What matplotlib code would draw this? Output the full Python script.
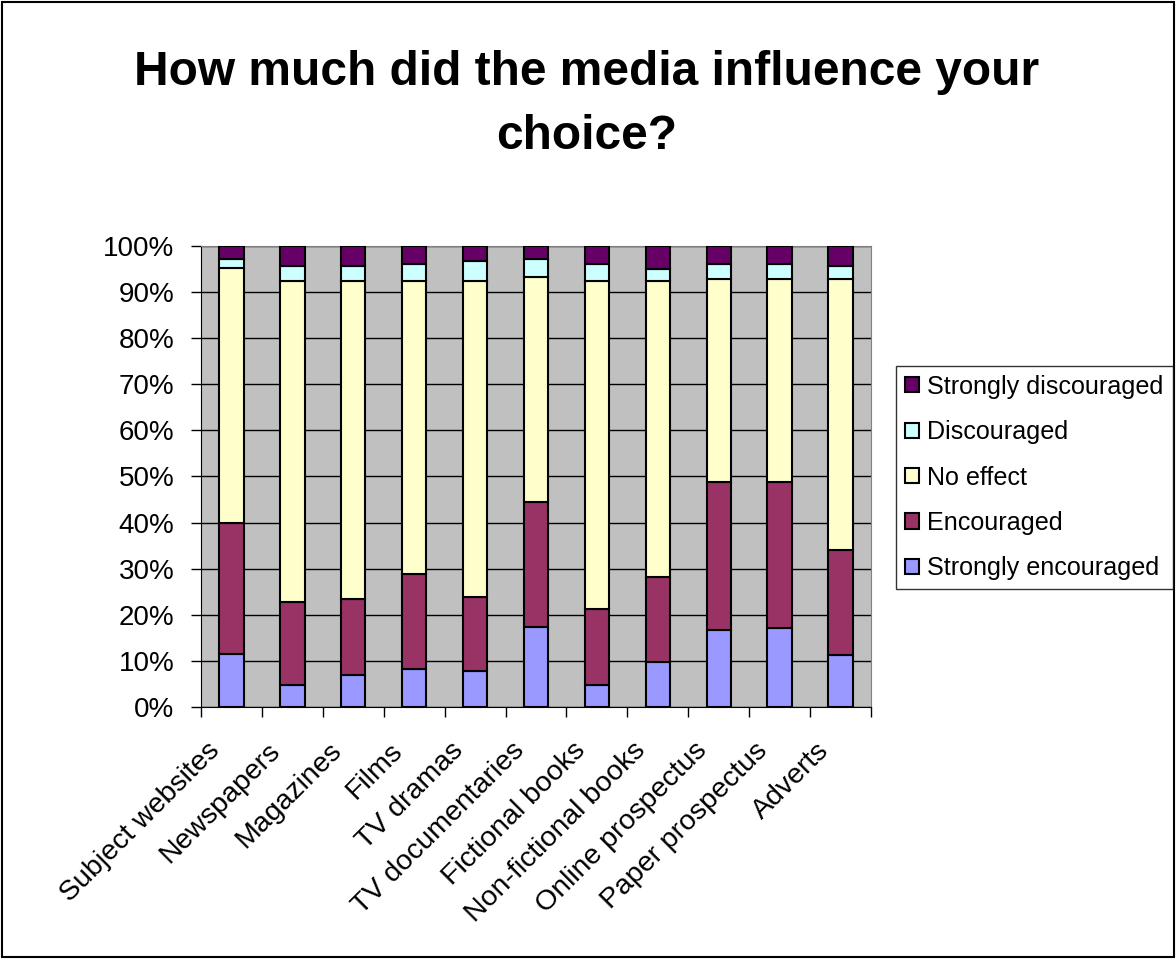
"""Stacked 100% bar chart: media influence on choice."""

import matplotlib.pyplot as plt
from matplotlib.patches import Rectangle
from matplotlib.ticker import FuncFormatter, MultipleLocator
from matplotlib.transforms import ScaledTranslation

plt.rcParams["font.family"] = ["Liberation Sans", "DejaVu Sans"]

CATEGORIES = [
    "Subject websites", "Newspapers", "Magazines", "Films", "TV dramas",
    "TV documentaries", "Fictional books", "Non-fictional books",
    "Online prospectus", "Paper prospectus", "Adverts",
]
STRONGLY_ENCOURAGED = [11.5, 4.8, 6.9, 8.3, 7.8, 17.3, 4.8, 9.8, 16.8, 17.2, 11.3]
ENCOURAGED = [28.5, 18.0, 16.5, 20.6, 16.1, 27.2, 16.5, 18.5, 32.0, 31.6, 22.7]
NO_EFFECT = [55.2, 69.5, 69.0, 63.4, 68.4, 48.7, 71.0, 64.0, 44.0, 44.0, 58.8]
DISCOURAGED = [2.0, 3.4, 3.3, 3.9, 4.5, 4.0, 3.9, 2.8, 3.4, 3.4, 2.9]
STRONGLY_DISCOURAGED = [2.8, 4.3, 4.3, 3.8, 3.2, 2.8, 3.8, 4.9, 3.8, 3.8, 4.3]

SERIES = [
    ("Strongly encouraged", STRONGLY_ENCOURAGED, "#9999FF"),
    ("Encouraged", ENCOURAGED, "#993366"),
    ("No effect", NO_EFFECT, "#FFFFCC"),
    ("Discouraged", DISCOURAGED, "#CCFFFF"),
    ("Strongly discouraged", STRONGLY_DISCOURAGED, "#660066"),
]


def main() -> None:
    fig = plt.figure(figsize=(11.76, 9.59), dpi=100)
    fig.patches.append(Rectangle((0.002, 0.002), 0.996, 0.996, transform=fig.transFigure,
                                 fill=False, edgecolor="black", linewidth=1.5))

    ax = fig.add_axes([201 / 1176, 252 / 959, 670 / 1176, 461 / 959])
    ax.set_facecolor("#C0C0C0")

    x = list(range(len(CATEGORIES)))
    total = [s + e + n + d + v for s, e, n, d, v in zip(
        STRONGLY_ENCOURAGED, ENCOURAGED, NO_EFFECT, DISCOURAGED, STRONGLY_DISCOURAGED)]
    bottoms = [0.0] * len(CATEGORIES)
    handles = []
    for name, values, color in SERIES:
        share = [100 * v / t for v, t in zip(values, total)]
        bars = ax.bar(x, share, bottom=bottoms, width=0.4, color=color,
                      edgecolor="black", linewidth=1.5, label=name, zorder=3)
        handles.append(bars)
        bottoms = [b + s for b, s in zip(bottoms, share)]

    ax.set_xlim(-0.5, len(CATEGORIES) - 0.5)
    ax.set_ylim(0, 100)
    ax.yaxis.set_major_locator(MultipleLocator(10))
    ax.yaxis.set_major_formatter(FuncFormatter(lambda v, _: f"{v:.0f}%"))
    ax.grid(axis="y", color="black", linewidth=1, zorder=0)

    ax.set_xticks(x)
    ax.set_xticklabels(CATEGORIES, rotation=45, ha="right", rotation_mode="anchor", fontsize=20.5)
    ax.set_xticks([i - 0.5 for i in range(len(CATEGORIES) + 1)], minor=True)
    ax.tick_params(axis="x", which="major", length=0, pad=22)
    ax.tick_params(axis="x", which="minor", length=7, width=1, color="black", direction="out")
    ax.tick_params(axis="y", length=7, width=1, labelsize=20, pad=12)
    shift = ScaledTranslation(-0.25, 0, fig.dpi_scale_trans)
    for lbl in ax.get_xticklabels():
        lbl.set_transform(lbl.get_transform() + shift)

    for side in ("top", "right"):
        ax.spines[side].set_color("#808080")
    ax.spines["left"].set_color("black")
    ax.spines["bottom"].set_color("black")

    fig.text(0.4987, (959 - 85) / 959, "How much did the media influence your", ha="center",
             va="baseline", fontsize=34.5, fontweight="bold")
    fig.text(0.4987, (959 - 149) / 959, "choice?", ha="center", va="baseline",
             fontsize=34.5, fontweight="bold")

    leg = fig.legend(handles[::-1], [s[0] for s in SERIES][::-1],
                     loc="upper left", bbox_to_anchor=(896 / 1176, (959 - 366) / 959),
                     fontsize=18.1, frameon=True, fancybox=False, edgecolor="black",
                     handlelength=0.55, handleheight=0.55, handletextpad=0.35,
                     labelspacing=0.85, borderpad=0.35, borderaxespad=0)
    leg.get_frame().set_linewidth(1)

    fig.savefig("out.png", dpi=100)


if __name__ == "__main__":
    main()
